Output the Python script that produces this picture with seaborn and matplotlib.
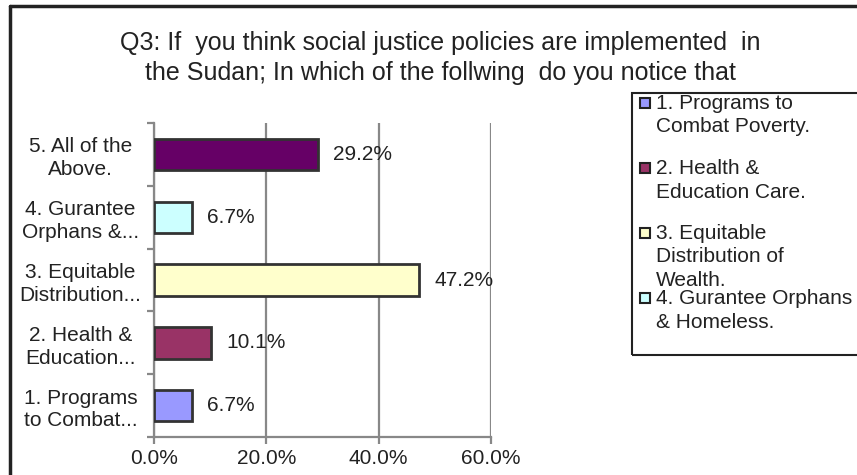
import matplotlib
matplotlib.use('Agg')
import matplotlib.pyplot as plt
import seaborn as sns
import pandas as pd
from matplotlib.patches import Rectangle
from matplotlib.lines import Line2D

categories = ["5. All of the\nAbove.", "4. Gurantee\nOrphans &...", "3. Equitable\nDistribution...",
              "2. Health &\nEducation...", "1. Programs\nto Combat..."]
values = [29.2, 6.7, 47.2, 10.1, 6.7]
colors = ["#660066", "#CCFFFF", "#FFFFCC", "#993366", "#9999FF"]
legend_labels = ["1. Programs to\nCombat Poverty.", "2. Health &\nEducation Care.",
                 "3. Equitable\nDistribution of\nWealth.", "4. Gurantee Orphans\n& Homeless."]
legend_colors = ["#9999FF", "#993366", "#FFFFCC", "#CCFFFF"]
xticks = [0, 20, 40, 60]
xtick_labels = ["0.0%", "20.0%", "40.0%", "60.0%"]
title = ("Q3: If  you think social justice policies are implemented  in\n"
         "the Sudan; In which of the follwing  do you notice that")

sns.set_theme(style="white")
plt.rcParams['font.family'] = ['Liberation Sans', 'DejaVu Sans']
TXT = '#222222'
GRID = '#888888'

W, H = 857, 475
fig = plt.figure(figsize=(W / 100, H / 100), dpi=100)
ax = fig.add_axes([154 / W, 1 - 437 / H, (491 - 154) / W, (437 - 123) / H])

df = pd.DataFrame({"cat": categories, "val": values})
sns.barplot(data=df, y="cat", x="val", hue="cat", palette=colors, order=categories,
            hue_order=categories, width=0.5, edgecolor="#333333", linewidth=2,
            saturation=1, legend=False, ax=ax, orient='h', zorder=3)

for cont in ax.containers:
    ax.bar_label(cont, fmt="%.1f%%", padding=11, fontsize=15, color=TXT)

ax.set_xlim(0, 60)
ax.set_ylim(4.5, -0.5)
ax.set_xticks(xticks, xtick_labels)
ax.xaxis.grid(True, color=GRID, lw=1.6)
ax.yaxis.grid(False)
ax.set_axisbelow(True)
for s in ['top', 'right']:
    ax.spines[s].set_visible(False)
for s in ['left', 'bottom']:
    ax.spines[s].set_color(GRID)
    ax.spines[s].set_linewidth(1.6)
ax.tick_params(axis='x', bottom=True, length=5, width=1.6, color=GRID, pad=4,
               labelsize=15, labelcolor=TXT)
ax.set_yticks([i - 0.5 for i in range(len(categories) + 1)], minor=True)
ax.tick_params(axis='y', which='minor', left=True, length=5, width=1.6, color=GRID)
ax.tick_params(axis='y', which='major', left=False, length=0, pad=53,
               labelsize=15, labelcolor=TXT)
for lbl in ax.get_yticklabels():
    lbl.set_ha('center')
    lbl.set_multialignment('center')
    lbl.set_linespacing(1.25)
ax.set_xlabel('')
ax.set_ylabel('')

fig.text(440 / W, 1 - 58 / H, title, ha='center', va='center', fontsize=18,
         color=TXT, linespacing=1.32)

# legend box
fig.add_artist(Rectangle((632 / W, 1 - 355 / H), 0.5, (355 - 93) / H,
                         transform=fig.transFigure, fill=False, ec='#222222', lw=1.5))
top, step = 103, 65
for i, (lab, col) in enumerate(zip(legend_labels, legend_colors)):
    yc = top + i * step
    fig.add_artist(Rectangle((640 / W, 1 - (yc + 5) / H), 10 / W, 10 / H,
                             transform=fig.transFigure, fc=col, ec='#222222', lw=1.5))
    fig.text(656 / W, 1 - (yc - 9) / H, lab, ha='left', va='top', fontsize=15,
             color=TXT, linespacing=1.3)

# outer frame
fig.add_artist(Line2D([10 / W, 10 / W], [0, 1 - 6 / H], transform=fig.transFigure,
                      color='#222222', lw=2.5))
fig.add_artist(Line2D([10 / W, 1], [1 - 6 / H, 1 - 6 / H], transform=fig.transFigure,
                      color='#222222', lw=2.5))

fig.savefig('out.png', dpi=100)
